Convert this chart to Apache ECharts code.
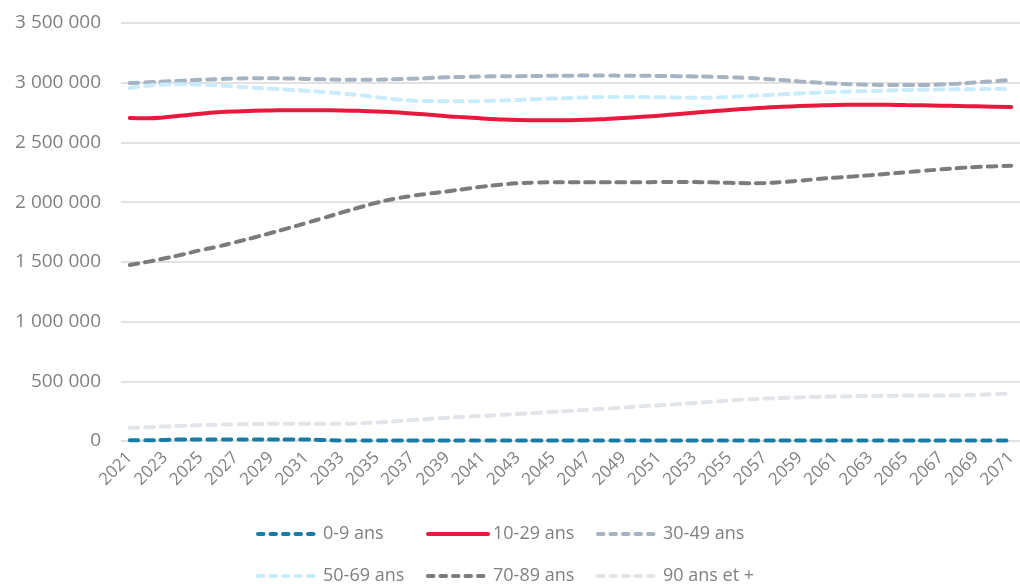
<!DOCTYPE html>
<html>
<head>
<meta charset="utf-8">
<script src="https://cdn.jsdelivr.net/npm/echarts@6/dist/echarts.min.js"></script>
<style>
html,body{margin:0;padding:0;background:#fff;}
#chart{width:1020px;height:584px;}
</style>
</head>
<body>
<div id="chart"></div>
<script>
var years = [];
for (var y = 2021; y <= 2071; y++) years.push(String(y));

var seriesNames = ['0-9 ans', '10-29 ans', '30-49 ans', '50-69 ans', '70-89 ans', '90 ans et +'];

var ans0_9 = [6000,6000,9000,12000,12000,12000,12000,12000,12000,12000,12000,8000,5000,5000,5000,5000,5000,5000,5000,5000,5000,5000,5000,5000,5000,5000,5000,5000,5000,5000,5000,5000,5000,5000,5000,5000,5000,5000,5000,5000,5000,5000,5000,5000,5000,5000,5000,5000,5000,5000,5000];

var ans10_29 = [2705000,2703000,2710000,2725000,2740000,2752000,2760000,2765000,2768000,2770000,2770000,2769000,2768000,2765000,2760000,2752000,2742000,2732000,2720000,2710000,2700000,2693000,2688000,2686000,2685000,2686000,2690000,2697000,2705000,2714000,2724000,2736000,2748000,2760000,2772000,2782000,2791000,2798000,2804000,2809000,2813000,2815000,2816000,2815000,2813000,2811000,2808000,2805000,2802000,2799000,2796000];

var ans30_49 = [2998000,3003000,3010000,3017000,3024000,3030000,3035000,3037000,3037000,3035000,3032000,3028000,3025000,3024000,3025000,3029000,3034000,3040000,3045000,3049000,3052000,3054000,3055000,3056000,3058000,3059000,3060000,3060000,3059000,3058000,3057000,3055000,3053000,3050000,3046000,3040000,3032000,3022000,3011000,3001000,2993000,2987000,2983000,2981000,2980000,2981000,2985000,2992000,3002000,3013000,3023000];

var ans50_69 = [2955000,2975000,2985000,2988000,2985000,2977000,2968000,2958000,2950000,2942000,2933000,2922000,2910000,2895000,2878000,2862000,2851000,2847000,2845000,2845000,2846000,2850000,2856000,2862000,2867000,2872000,2877000,2880000,2881000,2880000,2878000,2876000,2874000,2875000,2880000,2888000,2896000,2903000,2910000,2917000,2922000,2927000,2931000,2935000,2939000,2942000,2944000,2945000,2946000,2947000,2948000];

var ans70_89 = [1474000,1500000,1530000,1562000,1597000,1628000,1665000,1702000,1742000,1783000,1825000,1868000,1912000,1955000,1995000,2028000,2052000,2072000,2090000,2110000,2130000,2146000,2158000,2164000,2167000,2167000,2166000,2166000,2166000,2167000,2168000,2169000,2168000,2166000,2162000,2159000,2160000,2168000,2180000,2193000,2205000,2215000,2226000,2238000,2250000,2262000,2274000,2285000,2294000,2300000,2305000];

var ans90plus = [110000,116000,122000,127000,132000,137000,140000,142000,144000,145000,145000,145000,145000,148000,155000,165000,176000,186000,195000,203000,210000,218000,226000,235000,244000,253000,262000,271000,280000,290000,299000,308000,318000,328000,338000,348000,355000,361000,365000,369000,372000,375000,377000,379000,380000,380000,380000,382000,386000,392000,398000];

var yTicks = [0, 500000, 1000000, 1500000, 2000000, 2500000, 3000000, 3500000];

var allData = [ans0_9, ans10_29, ans30_49, ans50_69, ans70_89, ans90plus];
var colors = ['#177ca6', '#e8193c', '#a5b3c2', '#c8ecfb', '#7b7b7b', '#e1e5e9'];
var dashed = [true, false, true, true, true, true];

var FONT = 'Open Sans';
var TXT = '#808080';

function fmt(v) {
  return String(v).replace(/\B(?=(\d{3})+(?!\d))/g, ' ');
}

var series = allData.map(function (d, i) {
  return {
    name: seriesNames[i],
    type: 'line',
    data: d,
    smooth: true,
    symbol: 'none',
    lineStyle: {
      color: colors[i],
      width: 4,
      type: dashed[i] ? [8.5, 7] : 'solid',
      cap: 'round'
    },
    itemStyle: { color: colors[i] }
  };
});

var legendLefts = [251, 421, 591];
var legendTops = [520, 562];
var legends = seriesNames.map(function (n, i) {
  return {
    data: [n],
    left: legendLefts[i % 3],
    top: legendTops[Math.floor(i / 3)],
    itemWidth: 60, itemHeight: 14,
    itemStyle: { opacity: 0 },
    lineStyle: { width: 4, type: dashed[i] ? [5.5, 7] : 'solid', cap: 'round' },
    textStyle: { color: TXT, fontFamily: FONT, fontSize: 18 }
  };
});

var chart = echarts.init(document.getElementById('chart'));
chart.setOption({
  animation: false,
  backgroundColor: '#ffffff',
  grid: { left: 121, right: -7, top: 23, bottom: 143, containLabel: false },
  legend: legends,
  xAxis: {
    type: 'category',
    data: years,
    boundaryGap: true,
    axisLine: { show: false },
    axisTick: { show: false },
    axisLabel: {
      interval: 1,
      rotate: 45,
      margin: 14,
      color: TXT,
      fontFamily: FONT,
      fontSize: 17
    },
    splitLine: { show: false }
  },
  yAxis: {
    type: 'value',
    min: yTicks[0],
    max: yTicks[yTicks.length - 1],
    interval: 500000,
    axisLine: { show: false },
    axisTick: { show: false },
    axisLabel: {
      margin: 20,
      color: TXT,
      fontFamily: FONT,
      fontSize: 19,
      formatter: fmt
    },
    splitLine: { lineStyle: { color: '#e2e2e2', width: 2 } }
  },
  series: series
});
</script>
</body>
</html>
